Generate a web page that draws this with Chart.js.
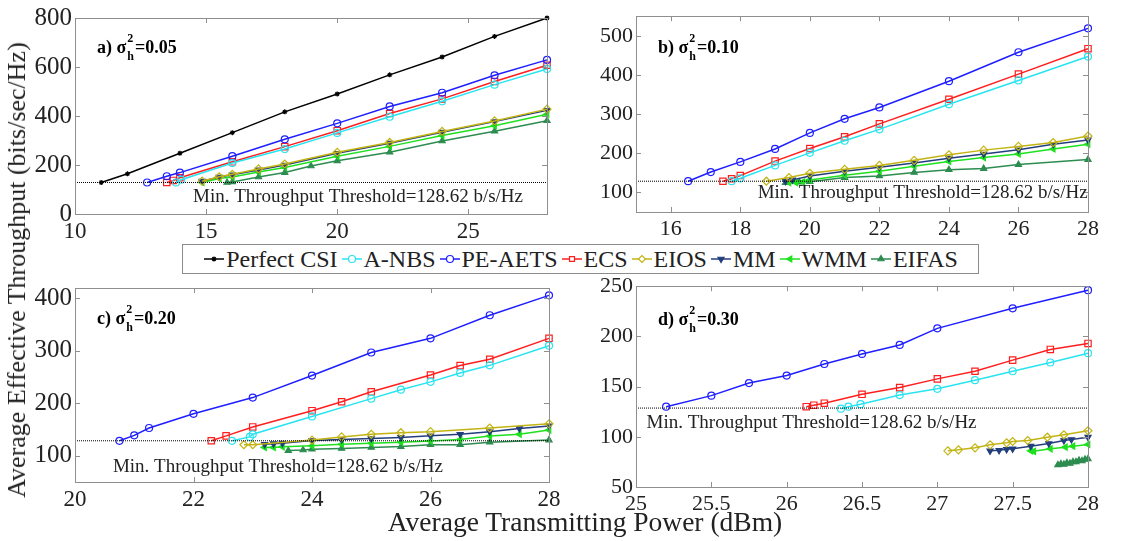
<!DOCTYPE html>
<html>
<head>
<meta charset="utf-8">
<script src="https://cdn.jsdelivr.net/npm/chart.js@4.4.1/dist/chart.umd.min.js"></script>
<style>
body { margin: 0; background: #fff; width: 1133px; height: 541px; position: relative; overflow: hidden; font-family: "Liberation Serif", serif; color: #222; }
canvas.panel { position: absolute; }
#legend { position: absolute; left: 182px; top: 244px; width: 795px; height: 28px; border: 1px solid #8c8c8c; background: #fff;
  display: flex; align-items: center; justify-content: center; font-size: 24px; white-space: nowrap; z-index: 2; }
#legend span.item { display: inline-flex; align-items: center; margin-right: 3px; }
#legend span.item:last-child { margin-right: 0; }
#legend canvas { margin-right: 1px; }
#ytitle { position: absolute; left: 17px; top: 270px; transform: translate(-50%, -50%) rotate(-90deg); font-size: 26px; white-space: nowrap; }
#xtitle { position: absolute; left: 585px; top: 522px; transform: translate(-50%, -50%); font-size: 27.5px; white-space: nowrap; }
</style>
</head>
<body>
<canvas id="panelA" class="panel" width="570" height="240" style="left:0;top:0"></canvas>
<canvas id="panelB" class="panel" width="563" height="240" style="left:570px;top:0"></canvas>
<canvas id="panelC" class="panel" width="570" height="245" style="left:0;top:270px"></canvas>
<canvas id="panelD" class="panel" width="563" height="245" style="left:570px;top:270px"></canvas>
<div id="legend"></div>
<div id="ytitle">Average Effective Throughput (bits/sec/Hz)</div>
<div id="xtitle">Average Transmitting Power (dBm)</div>
<script>
var seriesNames = ['Perfect CSI', 'A-NBS', 'PE-AETS', 'ECS', 'EIOS', 'MM', 'WMM', 'EIFAS'];
var threshold = 128.62;

// panel a) sigma_h^2 = 0.05
var aPerfX = [11, 12, 14, 16, 18, 20, 22, 24, 26, 28];
var aPerfY = [128.62, 164, 248, 332, 417, 490, 568, 641, 725, 800];
var aAnbsX = [13.85, 14.05, 16, 18, 20, 22, 24, 26, 28];
var aAnbsY = [128.62, 140, 208, 265, 331, 397, 460, 528, 592];
var aPeX = [12.75, 13.5, 14, 16, 18, 20, 22, 24, 26, 28];
var aPeY = [128.62, 154, 169, 236, 305, 370, 439, 495, 566, 629];
var aEcsX = [13.5, 13.75, 14, 16, 18, 20, 22, 24, 26, 28];
var aEcsY = [128.62, 137, 148, 213, 275, 340, 410, 470, 541, 607];
var aEiosX = [14.85, 15.5, 16, 17, 18, 20, 22, 24, 26, 28];
var aEiosY = [134, 152, 162, 184, 204, 252, 292, 337, 380, 428];
var aMmX = [14.85, 15.5, 16, 17, 18, 20, 22, 24, 26, 28];
var aMmY = [134, 151, 160, 180, 200, 248, 289, 334, 377, 423];
var aWmmX = [14.85, 15.5, 16, 17, 18, 20, 22, 24, 26, 28];
var aWmmY = [128.62, 145, 151, 171, 190, 236, 276, 320, 360, 407];
var aEifasX = [15.8, 16, 17, 18, 19, 20, 22, 24, 26, 28];
var aEifasY = [128.62, 131, 151, 169, 196, 217, 252, 298, 338, 381];
var aXTicks = [10, 15, 20, 25];
var aYTicks = [0, 200, 400, 600, 800];

// panel b) sigma_h^2 = 0.10
var bPeX = [16.5, 17.15, 18, 19, 20, 21, 22, 24, 26, 28];
var bPeY = [128.62, 152, 178, 211, 252, 288, 317, 384, 458, 519];
var bEcsX = [17.5, 17.75, 18, 19, 20, 21, 22, 24, 26, 28];
var bEcsY = [128.62, 135, 143, 180, 212, 242, 275, 338, 402, 467];
var bAnbsX = [17.75, 18, 19, 20, 21, 22, 24, 26, 28];
var bAnbsY = [128.62, 136, 169, 201, 232, 261, 325, 386, 447];
var bEiosX = [18.75, 19.4, 20, 21, 22, 23, 24, 25, 26, 27, 28];
var bEiosY = [128.62, 138, 149, 159, 169, 182, 196, 208, 217.5, 227.5, 244];
var bMmX = [19.3, 19.5, 20, 21, 22, 23, 24, 25, 26, 27, 28];
var bMmY = [128.62, 132, 142, 154, 164, 175, 187.5, 198, 209, 223, 234];
var bWmmX = [19.4, 19.6, 19.8, 20, 21, 22, 23, 24, 25, 26, 27, 28];
var bWmmY = [125, 125, 127, 132, 144, 154, 167, 179, 189, 198, 211, 223];
var bEifasX = [19.3, 19.7, 20, 21, 22, 23, 24, 25, 26, 28];
var bEifasY = [125, 126, 127.5, 138, 142, 151, 158, 161, 171, 184];
var bXTicks = [16, 18, 20, 22, 24, 26, 28];
var bYTicks = [100, 200, 300, 400, 500];

// panel c) sigma_h^2 = 0.20
var cPeX = [20.75, 21, 21.25, 22, 23, 24, 25, 26, 27, 28];
var cPeY = [128.62, 139, 153, 180, 211, 253, 297, 324, 368, 406];
var cEcsX = [22.3, 22.55, 23, 24, 24.5, 25, 26, 26.5, 27, 28];
var cEcsY = [128.62, 138, 155, 186, 203, 222, 254, 272, 284, 324];
var cAnbsX = [22.65, 22.95, 23, 24, 25, 25.5, 26, 26.5, 27, 28];
var cAnbsY = [128.62, 136, 141, 175, 209, 226, 241, 258, 272.5, 310];
var cEiosX = [22.85, 23, 24, 24.5, 25, 25.5, 26, 27, 28];
var cEiosY = [121, 121, 130, 136, 141, 144, 146, 153, 161];
var cMmX = [23.2, 23.35, 23.5, 24, 24.5, 25, 25.5, 26, 26.5, 27, 27.5, 28];
var cMmY = [122, 123, 124, 129, 131, 133, 135, 138, 141, 146, 152, 157];
var cWmmX = [23.2, 23.35, 23.5, 24, 24.5, 25, 25.5, 26, 26.5, 27, 27.5, 28];
var cWmmY = [116, 116, 117, 119, 122, 124, 126, 128, 131, 137.5, 141, 149];
var cEifasX = [23.6, 23.85, 24, 24.5, 25, 25.5, 26, 26.5, 27, 28];
var cEifasY = [110, 111, 112.5, 114, 116, 117.5, 121, 121, 126, 130];
var cXTicks = [20, 22, 24, 26, 28];
var cYTicks = [100, 200, 300, 400];

// panel d) sigma_h^2 = 0.30
var dPeX = [25.2, 25.5, 25.75, 26, 26.25, 26.5, 26.75, 27, 27.5, 28];
var dPeY = [130, 141, 153.5, 161, 172.5, 182.5, 191.5, 208, 228, 246];
var dEcsX = [26.13, 26.18, 26.25, 26.5, 26.75, 27, 27.25, 27.5, 27.75, 28];
var dEcsY = [130, 131.5, 133.5, 142.3, 149, 157.7, 165.3, 176.4, 187, 193];
var dAnbsX = [26.36, 26.41, 26.49, 26.75, 27, 27.25, 27.5, 27.75, 28];
var dAnbsY = [128, 130, 132.5, 141.6, 147.8, 156.4, 165.3, 174, 183.3];
var dEiosX = [27.07, 27.14, 27.25, 27.35, 27.46, 27.5, 27.6, 27.73, 27.84, 28];
var dEiosY = [86, 87, 89, 92, 94, 95.3, 96.3, 99.6, 102, 106];
var dMmX = [27.35, 27.41, 27.46, 27.5, 27.62, 27.74, 27.84, 27.89, 28];
var dMmY = [86, 86.5, 87.5, 88, 90.7, 93.3, 96.3, 97.3, 99.6];
var dWmmX = [27.62, 27.64, 27.75, 27.85, 27.9, 28];
var dWmmY = [86, 85.5, 88, 89.7, 90.7, 92.4];
var dEifasX = [27.8, 27.82, 27.84, 27.86, 27.88, 27.9, 27.92, 27.94, 27.96, 27.98, 28];
var dEifasY = [72, 73, 72.5, 74, 73.5, 75, 75, 76.5, 76, 77.5, 78];
var dXTicks = [25, 25.5, 26, 26.5, 27, 27.5, 28];
var dYTicks = [50, 100, 150, 200, 250];

var styles = {
    'Perfect CSI': { color: 'rgb(0, 0, 0)', point: 'star', radius: 2.5, rotation: 0, filled: false },
    'A-NBS': { color: 'rgb(40, 228, 240)', point: 'circle', radius: 3.5, rotation: 0, filled: false },
    'PE-AETS': { color: 'rgb(30, 30, 255)', point: 'circle', radius: 3.5, rotation: 0, filled: false },
    'ECS': { color: 'rgb(255, 30, 30)', point: 'rect', radius: 4.5, rotation: 0, filled: false },
    'EIOS': { color: 'rgb(195, 180, 20)', point: 'rectRot', radius: 4, rotation: 0, filled: false },
    'MM': { color: 'rgb(35, 62, 125)', point: 'triangle', radius: 3.5, rotation: 180, filled: true },
    'WMM': { color: 'rgb(30, 225, 30)', point: 'triangle', radius: 3.5, rotation: 270, filled: true },
    'EIFAS': { color: 'rgb(45, 140, 80)', point: 'triangle', radius: 3.5, rotation: 0, filled: true }
};

function zip(xs, ys) {
    return xs.map(function (x, i) { return { x: x, y: ys[i] }; });
}

function seriesDataset(name, xs, ys) {
    var s = styles[name];
    return {
        label: name,
        data: zip(xs, ys),
        borderColor: s.color,
        backgroundColor: s.color,
        borderWidth: 1.5,
        pointStyle: s.point,
        pointRadius: s.radius,
        pointRotation: s.rotation,
        pointBorderColor: s.color,
        pointBackgroundColor: s.filled ? s.color : 'rgba(255,255,255,0)',
        pointBorderWidth: 1.2,
        tension: 0,
        clip: false
    };
}

var framePlugin = {
    id: 'frame',
    afterDraw: function (chart, args, opts) {
        var ctx = chart.ctx, a = chart.chartArea, x = chart.scales.x, y = chart.scales.y;
        ctx.save();
        ctx.strokeStyle = '#8f8f8f';
        ctx.lineWidth = 1;
        ctx.strokeRect(Math.round(a.left) + 0.5, Math.round(a.top) + 0.5, Math.round(a.right - a.left), Math.round(a.bottom - a.top));
        ctx.beginPath();
        x.ticks.forEach(function (t) {
            var px = Math.round(x.getPixelForValue(t.value)) + 0.5;
            ctx.moveTo(px, a.bottom); ctx.lineTo(px, a.bottom - 5);
            ctx.moveTo(px, a.top); ctx.lineTo(px, a.top + 5);
        });
        y.ticks.forEach(function (t) {
            var py = Math.round(y.getPixelForValue(t.value)) + 0.5;
            ctx.moveTo(a.left, py); ctx.lineTo(a.left + 5, py);
            ctx.moveTo(a.right, py); ctx.lineTo(a.right - 5, py);
        });
        ctx.stroke();

        ctx.fillStyle = '#222';
        ctx.font = '19px "Liberation Serif"';
        ctx.textBaseline = 'alphabetic';
        ctx.fillText('Min. Throughput Threshold=128.62 b/s/Hz', x.getPixelForValue(opts.noteX), y.getPixelForValue(opts.noteY));

        // panel label: "a) σ" with stacked ^2 and _h, then "=0.05"
        var lx = a.left + 22, ly = a.top + opts.labelDy;
        ctx.fillStyle = '#000';
        ctx.font = 'bold 18px "Liberation Serif"';
        var head = opts.letter + ') \u03c3';
        ctx.fillText(head, lx, ly);
        lx += ctx.measureText(head).width + 1;
        ctx.font = 'bold 12px "Liberation Serif"';
        ctx.fillText('2', lx, ly - 11);
        ctx.fillText('h', lx, ly + 7);
        lx += ctx.measureText('h').width + 1;
        ctx.font = 'bold 18px "Liberation Serif"';
        ctx.fillText('=' + opts.value, lx, ly);
        ctx.restore();
    }
};

function makePanel(id, datasets, o) {
    var ctx = document.getElementById(id).getContext('2d');
    datasets.unshift({
        label: 'threshold',
        data: [{ x: o.xMin, y: threshold }, { x: o.xMax, y: threshold }],
        borderColor: 'rgb(0, 0, 0)',
        borderWidth: 1,
        borderDash: [1, 1],
        pointRadius: 0,
        clip: false
    });
    return new Chart(ctx, {
        type: 'line',
        data: { datasets: datasets },
        options: {
            responsive: false,
            animation: false,
            layout: { padding: { top: o.padTop, right: o.padRight, left: 0, bottom: 0 } },
            plugins: {
                legend: { display: false },
                tooltip: { enabled: false },
                frame: { noteX: o.noteX, noteY: o.noteY, letter: o.letter, value: o.value, labelDy: o.labelDy }
            },
            scales: {
                x: {
                    type: 'linear',
                    min: o.xMin, max: o.xMax,
                    grid: { display: false, drawTicks: false },
                    border: { display: false },
                    afterBuildTicks: function (s) { s.ticks = o.xTicks.map(function (v) { return { value: v }; }); },
                    afterFit: function (s) { s.height = o.xAxisH; },
                    ticks: { padding: 4, color: '#222', maxRotation: 0, autoSkip: false,
                        font: { family: 'Liberation Serif', size: o.xFont },
                        callback: function (v) { return String(v); } }
                },
                y: {
                    min: o.yMin, max: o.yMax,
                    grid: { display: false, drawTicks: false },
                    border: { display: false },
                    afterBuildTicks: function (s) { s.ticks = o.yTicks.map(function (v) { return { value: v }; }); },
                    afterFit: function (s) { s.width = o.yAxisW; },
                    ticks: { padding: 3, color: '#222', autoSkip: false,
                        font: { family: 'Liberation Serif', size: o.yFont },
                        callback: function (v) { return String(v); } }
                }
            }
        },
        plugins: [framePlugin]
    });
}

makePanel('panelA', [
    seriesDataset('Perfect CSI', aPerfX, aPerfY),
    seriesDataset('A-NBS', aAnbsX, aAnbsY),
    seriesDataset('PE-AETS', aPeX, aPeY),
    seriesDataset('ECS', aEcsX, aEcsY),
    seriesDataset('EIOS', aEiosX, aEiosY),
    seriesDataset('MM', aMmX, aMmY),
    seriesDataset('WMM', aWmmX, aWmmY),
    seriesDataset('EIFAS', aEifasX, aEifasY)
], { xMin: 10, xMax: 28, yMin: 0, yMax: 800, xTicks: aXTicks, yTicks: aYTicks, padTop: 11, padRight: 23,
     xAxisH: 26, yAxisW: 75, xFont: 23, yFont: 25, noteX: 14.5, noteY: 47, letter: 'a', value: '0.05', labelDy: 35 });

makePanel('panelB', [
    seriesDataset('A-NBS', bAnbsX, bAnbsY),
    seriesDataset('PE-AETS', bPeX, bPeY),
    seriesDataset('ECS', bEcsX, bEcsY),
    seriesDataset('EIOS', bEiosX, bEiosY),
    seriesDataset('MM', bMmX, bMmY),
    seriesDataset('WMM', bWmmX, bWmmY),
    seriesDataset('EIFAS', bEifasX, bEifasY)
], { xMin: 15, xMax: 28, yMin: 50, yMax: 550, xTicks: bXTicks, yTicks: bYTicks, padTop: 10, padRight: 45,
     xAxisH: 28, yAxisW: 66, xFont: 22, yFont: 22, noteX: 18.5, noteY: 85, letter: 'b', value: '0.10', labelDy: 37 });

makePanel('panelC', [
    seriesDataset('A-NBS', cAnbsX, cAnbsY),
    seriesDataset('PE-AETS', cPeX, cPeY),
    seriesDataset('ECS', cEcsX, cEcsY),
    seriesDataset('EIOS', cEiosX, cEiosY),
    seriesDataset('MM', cMmX, cMmY),
    seriesDataset('WMM', cWmmX, cWmmY),
    seriesDataset('EIFAS', cEifasX, cEifasY)
], { xMin: 20, xMax: 28, yMin: 50, yMax: 420, xTicks: cXTicks, yTicks: cYTicks, padTop: 16, padRight: 21,
     xAxisH: 33, yAxisW: 75, xFont: 23, yFont: 25, noteX: 20.64, noteY: 70, letter: 'c', value: '0.20', labelDy: 36 });

makePanel('panelD', [
    seriesDataset('A-NBS', dAnbsX, dAnbsY),
    seriesDataset('PE-AETS', dPeX, dPeY),
    seriesDataset('ECS', dEcsX, dEcsY),
    seriesDataset('EIOS', dEiosX, dEiosY),
    seriesDataset('MM', dMmX, dMmY),
    seriesDataset('WMM', dWmmX, dWmmY),
    seriesDataset('EIFAS', dEifasX, dEifasY)
], { xMin: 25, xMax: 28, yMin: 50, yMax: 250, xTicks: dXTicks, yTicks: dYTicks, padTop: 14, padRight: 45,
     xAxisH: 28, yAxisW: 66, xFont: 22, yFont: 22, noteX: 25.07, noteY: 109, letter: 'd', value: '0.30', labelDy: 39 });

// shared legend, markers drawn with Chart.js' own point helper
var legend = document.getElementById('legend');
seriesNames.forEach(function (name) {
    var s = styles[name];
    var item = document.createElement('span');
    item.className = 'item';
    var icon = document.createElement('canvas');
    icon.width = 22; icon.height = 14;
    var ictx = icon.getContext('2d');
    ictx.strokeStyle = s.color;
    ictx.lineWidth = 1.5;
    ictx.beginPath(); ictx.moveTo(1, 7); ictx.lineTo(21, 7); ictx.stroke();
    ictx.fillStyle = s.filled ? s.color : '#fff';
    ictx.strokeStyle = s.color;
    ictx.lineWidth = 1.2;
    Chart.helpers.drawPoint(ictx, { pointStyle: s.point, rotation: s.rotation, radius: Math.min(s.radius, 3.5), borderWidth: 1.2 }, 11, 7);
    item.appendChild(icon);
    var txt = document.createElement('span');
    txt.textContent = name;
    item.appendChild(txt);
    legend.appendChild(item);
});
</script>
</body>
</html>
